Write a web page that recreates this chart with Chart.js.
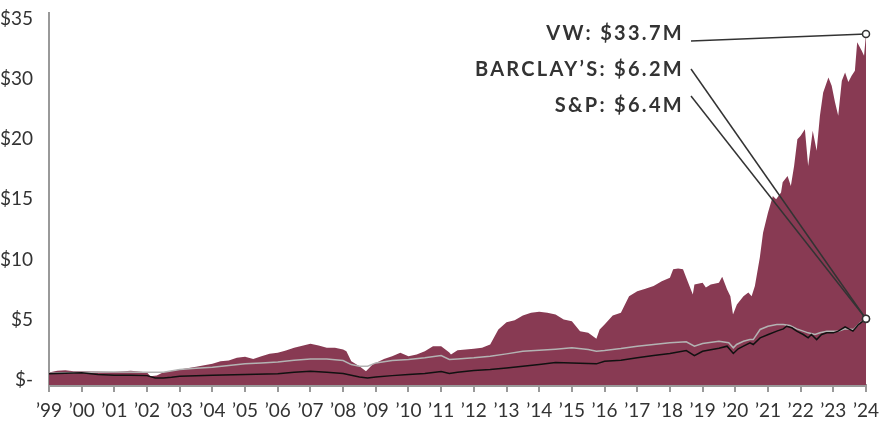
<!DOCTYPE html>
<html>
<head>
<meta charset="utf-8">
<script src="https://cdn.jsdelivr.net/npm/chart.js@4/dist/chart.umd.min.js"></script>
<style>
  body { margin: 0; background: #fff; }
  #chart { display: block; }
</style>
</head>
<body>
<canvas id="chart" width="881" height="426"></canvas>
<script>
// growth of $ invested, in $ millions
const vwYears = [1999.0, 1999.25, 1999.5, 1999.75, 2000.0, 2000.5, 2001.0, 2001.5, 2001.75, 2002.0, 2002.1, 2002.3, 2002.5,
  2003.0, 2003.5, 2004.0, 2004.25, 2004.5, 2004.75, 2005.0, 2005.25, 2005.5, 2005.75, 2006.0, 2006.25, 2006.5,
  2007.0, 2007.25, 2007.5, 2007.75, 2008.0, 2008.1, 2008.25, 2008.5, 2008.7, 2008.9, 2009.0, 2009.25, 2009.5, 2009.75,
  2010.0, 2010.25, 2010.5, 2010.75, 2011.0, 2011.25, 2011.3, 2011.5, 2011.75, 2012.0, 2012.25, 2012.5, 2012.75,
  2013.0, 2013.25, 2013.5, 2013.75, 2014.0, 2014.25, 2014.5, 2014.75, 2015.0, 2015.25, 2015.5, 2015.75, 2015.85,
  2016.0, 2016.25, 2016.5, 2016.75, 2017.0, 2017.25, 2017.5, 2017.75, 2018.0, 2018.1, 2018.25, 2018.4, 2018.5,
  2018.7, 2018.75, 2019.0, 2019.1, 2019.25, 2019.5, 2019.6, 2019.75, 2019.85, 2019.93, 2020.05, 2020.25, 2020.4,
  2020.5, 2020.6, 2020.75, 2020.85, 2021.0, 2021.15, 2021.25, 2021.4, 2021.45, 2021.6, 2021.7, 2021.8, 2021.9,
  2022.0, 2022.13, 2022.23, 2022.37, 2022.49, 2022.59, 2022.69, 2022.85, 2022.95, 2023.05, 2023.15, 2023.26,
  2023.36, 2023.46, 2023.56, 2023.66, 2023.73, 2023.87, 2023.94, 2024.0];
const vwValues = [0.58, 0.73, 0.78, 0.69, 0.69, 0.67, 0.64, 0.73, 0.67, 0.58, 0.28, 0.33, 0.61,
  0.83, 1.06, 1.31, 1.53, 1.58, 1.81, 1.89, 1.72, 1.94, 2.14, 2.23, 2.42, 2.64,
  2.98, 2.83, 2.64, 2.64, 2.5, 2.36, 1.53, 1.11, 0.69, 1.25, 1.39, 1.72, 1.94, 2.23,
  1.94, 2.08, 2.36, 2.78, 2.78, 2.25, 2.08, 2.44, 2.5, 2.56, 2.64, 2.92, 4.17,
  4.78, 4.94, 5.33, 5.56, 5.64, 5.56, 5.42, 5.0, 4.86, 4.03, 3.89, 3.39, 4.17,
  4.58, 5.33, 5.56, 6.94, 7.36, 7.56, 7.78, 8.19, 8.47, 9.17, 9.25, 9.17, 8.47,
  7.08, 7.92, 8.06, 7.67, 7.92, 8.06, 8.56, 7.5, 6.94, 5.42, 6.25, 6.94, 7.25,
  6.94, 7.78, 10.14, 12.22, 13.89, 15.28, 15.0, 15.56, 16.42, 16.94, 16.11, 17.78, 20.0,
  20.58, 21.67, 17.78, 21.39, 19.03, 23.89, 27.78, 30.14, 28.89, 26.17, 23.89, 29.72,
  30.56, 29.5, 30.28, 30.69, 33.06, 32.36, 31.94, 33.75];

const barclaysYears = [1999.0, 2000.0, 2001.0, 2002.0, 2002.5, 2003.0, 2003.5, 2004.0, 2004.5, 2005.0, 2005.5, 2006.0, 2006.5,
  2007.0, 2007.5, 2008.0, 2008.25, 2008.5, 2008.75, 2009.0, 2009.5, 2010.0, 2010.5, 2011.0, 2011.25, 2011.5,
  2012.0, 2012.5, 2013.0, 2013.5, 2014.0, 2014.5, 2015.0, 2015.5, 2015.75, 2016.0, 2016.5, 2017.0, 2017.5,
  2018.0, 2018.5, 2018.75, 2019.0, 2019.5, 2019.8, 2019.94, 2020.04, 2020.25, 2020.45, 2020.55, 2020.76,
  2021.0, 2021.27, 2021.47, 2021.67, 2021.88, 2022.08, 2022.23, 2022.44, 2022.59, 2022.8, 2023.0, 2023.15,
  2023.36, 2023.62, 2023.82, 2024.0];
const barclaysValues = [0.53, 0.61, 0.64, 0.61, 0.61, 0.83, 0.94, 1.03, 1.17, 1.31, 1.39, 1.47, 1.6,
  1.72, 1.72, 1.58, 1.25, 1.11, 1.11, 1.39, 1.58, 1.67, 1.81, 2.0, 1.67, 1.72,
  1.81, 1.94, 2.14, 2.36, 2.44, 2.53, 2.64, 2.5, 2.36, 2.42, 2.58, 2.78, 2.92,
  3.06, 3.14, 2.78, 3.0, 3.19, 3.06, 2.64, 2.92, 3.19, 3.33, 3.33, 4.17,
  4.44, 4.58, 4.58, 4.5, 4.22, 4.03, 3.89, 3.75, 3.89, 4.03, 4.03, 4.03,
  4.22, 4.17, 4.72, 5.04];

const spYears = [1999.0, 1999.5, 2000.0, 2000.5, 2001.0, 2001.5, 2002.0, 2002.25, 2002.5, 2002.75, 2003.0, 2004.0, 2005.0,
  2006.0, 2006.5, 2007.0, 2007.5, 2008.0, 2008.5, 2008.75, 2009.0, 2009.5, 2010.0, 2010.5, 2011.0, 2011.25,
  2011.5, 2012.0, 2012.5, 2013.0, 2013.5, 2014.0, 2014.5, 2015.0, 2015.5, 2015.75, 2016.0, 2016.5, 2017.0,
  2017.5, 2018.0, 2018.5, 2018.75, 2019.0, 2019.5, 2019.75, 2019.94, 2020.09, 2020.25, 2020.45, 2020.55,
  2020.76, 2021.01, 2021.27, 2021.47, 2021.57, 2021.73, 2021.88, 2022.08, 2022.23, 2022.33, 2022.49, 2022.64,
  2022.8, 2023.0, 2023.15, 2023.36, 2023.6, 2023.77, 2024.0];
const spValues = [0.48, 0.53, 0.56, 0.42, 0.36, 0.36, 0.33, 0.14, 0.14, 0.19, 0.28, 0.36, 0.42,
  0.48, 0.61, 0.69, 0.61, 0.5, 0.22, 0.14, 0.22, 0.33, 0.42, 0.5, 0.67, 0.5,
  0.61, 0.75, 0.83, 0.97, 1.11, 1.25, 1.42, 1.39, 1.33, 1.31, 1.53, 1.61, 1.81,
  2.0, 2.17, 2.42, 2.0, 2.36, 2.6, 2.78, 2.17, 2.56, 2.78, 3.06, 2.92,
  3.47, 3.75, 4.03, 4.22, 4.44, 4.31, 4.03, 3.75, 3.47, 3.75, 3.33, 3.75,
  3.89, 3.89, 4.03, 4.39, 4.03, 4.58, 5.06];

const firstYear = 1999;
const lastYear = 2024;
const yTickLabels = ["$-", "$5", "$10", "$15", "$20", "$30", "$35"];
const callouts = [
  { text: "VW: $33.7M", series: 0 },
  { text: "BARCLAY\u2019S: $6.2M", series: 1 },
  { text: "S&P: $6.4M", series: 2 }
];

// the value axis is broken: 20->30 takes one step, 30->35 one step
function toAxis(d) {
  if (d <= 20) return d;
  if (d <= 30) return 20 + (d - 20) / 2;
  return 25 + (d - 30);
}
const toPoints = (xs, ys) => xs.map((x, i) => ({ x: x, y: toAxis(ys[i]) }));

const MAROON = "#883a53";
const AXIS = "#999999";
const INK = "#333333";
const TICK_FONT = { family: "Lato", size: 19, weight: "400" };

// text spots and where each leader starts
const calloutLayout = [
  { right: 684, y: 34, lx: 691, ly: 41 },
  { right: 684, y: 70, lx: 691, ly: 69 },
  { right: 684, y: 106, lx: 691, ly: 96 }
];

const calloutPlugin = {
  id: "callouts",
  afterDatasetsDraw(chart) {
    const ctx = chart.ctx;
    ctx.save();
    callouts.forEach((c, i) => {
      const pos = calloutLayout[i];
      const meta = chart.getDatasetMeta(c.series);
      const end = meta.data[meta.data.length - 1];
      ctx.strokeStyle = INK;
      ctx.lineWidth = 1.5;
      ctx.beginPath();
      ctx.moveTo(pos.lx, pos.ly);
      ctx.lineTo(end.x, end.y);
      ctx.stroke();
    });
    callouts.forEach((c, i) => {
      const meta = chart.getDatasetMeta(c.series);
      const end = meta.data[meta.data.length - 1];
      ctx.fillStyle = "#fff";
      ctx.strokeStyle = INK;
      ctx.lineWidth = 1.5;
      ctx.beginPath();
      ctx.arc(end.x, end.y, 3.5, 0, Math.PI * 2);
      ctx.fill();
      ctx.stroke();
    });
    ctx.fillStyle = INK;
    ctx.font = "bold 20px Lato, 'Noto Sans', sans-serif";
    ctx.letterSpacing = "2.3px";
    ctx.textAlign = "right";
    ctx.textBaseline = "middle";
    callouts.forEach((c, i) => {
      const pos = calloutLayout[i];
      ctx.fillText(c.text, pos.right, pos.y);
    });
    ctx.restore();
  }
};

new Chart(document.getElementById("chart").getContext("2d"), {
  type: "line",
  data: {
    datasets: [
      {
        label: "VW",
        data: toPoints(vwYears, vwValues),
        fill: "start",
        backgroundColor: MAROON,
        borderWidth: 0,
        pointRadius: 0,
        order: 3
      },
      {
        label: "Barclay's",
        data: toPoints(barclaysYears, barclaysValues),
        borderColor: "#b3b3b3",
        borderWidth: 1.5,
        pointRadius: 0,
        fill: false,
        order: 2
      },
      {
        label: "S&P",
        data: toPoints(spYears, spValues),
        borderColor: "#111111",
        borderWidth: 1.5,
        pointRadius: 0,
        fill: false,
        order: 1
      }
    ]
  },
  options: {
    responsive: false,
    animation: false,
    layout: { padding: { top: 13, right: 15, left: 0, bottom: 0 } },
    plugins: { legend: { display: false }, tooltip: { enabled: false } },
    elements: { line: { tension: 0 } },
    scales: {
      x: {
        type: "linear",
        min: firstYear,
        max: lastYear,
        afterBuildTicks: (s) => {
          const t = [];
          for (let y = firstYear; y <= lastYear; y++) t.push({ value: y });
          s.ticks = t;
        },
        afterFit: (s) => { s.height = 41; s.paddingLeft = 0; s.paddingRight = 0; },
        border: { color: AXIS, width: 3 },
        grid: { drawOnChartArea: false, drawTicks: true, tickLength: 7, tickColor: AXIS, lineWidth: 2 },
        ticks: {
          autoSkip: false,
          maxRotation: 0,
          padding: 7,
          color: INK,
          font: TICK_FONT,
          callback: (v) => "\u2019" + String(v).slice(2)
        }
      },
      y: {
        min: -0.45,
        max: 30.5,
        afterBuildTicks: (s) => {
          s.ticks = yTickLabels.map((_, i) => ({ value: i * 5 }));
        },
        afterFit: (s) => { s.width = 49; s.paddingTop = 0; s.paddingBottom = 0; },
        border: { color: AXIS, width: 2 },
        grid: { display: false },
        ticks: {
          padding: 8,
          color: INK,
          font: TICK_FONT,
          callback: (v) => yTickLabels[Math.round(v / 5)]
        }
      }
    }
  },
  plugins: [calloutPlugin]
});
</script>
</body>
</html>
